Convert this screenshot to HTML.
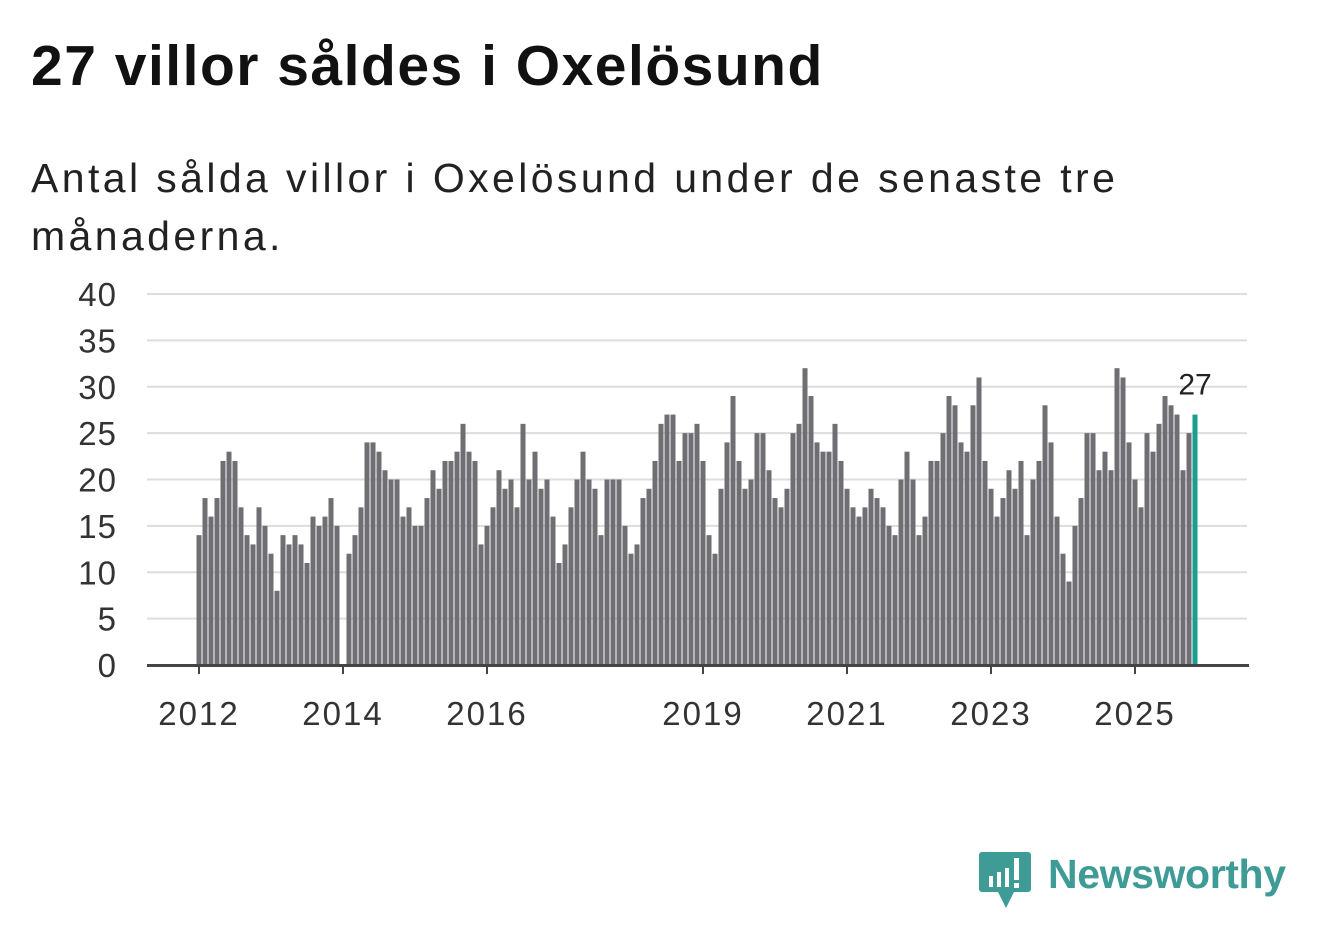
<!DOCTYPE html>
<html><head><meta charset="utf-8"><style>
body{margin:0;background:#fff;width:1322px;height:939px;overflow:hidden;font-family:"Liberation Sans",sans-serif;}
h1{position:absolute;left:31px;top:33px;margin:0;font-size:57px;letter-spacing:1.5px;font-weight:bold;color:#111;}
.sub{position:absolute;left:31px;top:149px;margin:0;font-size:41px;letter-spacing:3.4px;line-height:58px;color:#222;width:1120px;}
svg{position:absolute;left:0;top:0;}
</style></head><body>
<h1>27 villor såldes i Oxelösund</h1>
<p class="sub">Antal sålda villor i Oxelösund under de senaste tre månaderna.</p>
<svg width="1322" height="939">
<g id="grid"></g><g id="bars"></g><g id="axis"></g>
<g>
<path d="M982 852 h46 a3 3 0 0 1 3 3 v34 a3 3 0 0 1 -3 3 h-14 l-8 16 l-8 -16 h-16 a3 3 0 0 1 -3 -3 v-34 a3 3 0 0 1 3 -3z" fill="#3f9b96"/>
<rect x="989" y="876" width="4" height="11" fill="#fff"/><rect x="997" y="872" width="4" height="15" fill="#fff"/><rect x="1005" y="868" width="4" height="19" fill="#fff"/><rect x="1014" y="858" width="5" height="22" fill="#fff"/><rect x="1014" y="883" width="5" height="5" fill="#fff"/>
<text x="1048" y="888" font-size="41" font-weight="bold" fill="#3f9b96" textLength="238" font-family="Liberation Sans, sans-serif">Newsworthy</text>
</g>
</svg>
<script>
const years=[2012,2013,2014,2015,2016,2017,2018,2019,2020,2021,2022,2023,2024,2025];
const values=[
14,18,16,18,22,23,22,17,14,13,17,15,
12,8,14,13,14,13,11,16,15,16,18,15,
null,12,14,17,24,24,23,21,20,20,16,17,
15,15,18,21,19,22,22,23,26,23,22,13,
15,17,21,19,20,17,26,20,23,19,20,16,
11,13,17,20,23,20,19,14,20,20,20,15,
12,13,18,19,22,26,27,27,22,25,25,26,
22,14,12,19,24,29,22,19,20,25,25,21,
18,17,19,25,26,32,29,24,23,23,26,22,
19,17,16,17,19,18,17,15,14,20,23,20,
14,16,22,22,25,29,28,24,23,28,31,22,
19,16,18,21,19,22,14,20,22,28,24,16,
12,9,15,18,25,25,21,23,21,32,31,24,
20,17,25,23,26,29,28,27,21,25,27];
const yTicks=[0,5,10,15,20,25,30,35,40];
const xTickYears=[2012,2014,2016,2019,2021,2023,2025];
const NS="http://www.w3.org/2000/svg";
const x0=199,step=6,y0=665,yk=(665-294)/40;
const X=i=>x0+i*step, Y=v=>y0-v*yk;
function mk(t,a,p){const e=document.createElementNS(NS,t);for(const k in a)e.setAttribute(k,a[k]);p.appendChild(e);return e;}
const grid=document.getElementById('grid'),bars=document.getElementById('bars'),axis=document.getElementById('axis');
yTicks.forEach(v=>{
 if(v>0){const l=mk('line',{x1:147,x2:1247,y1:Y(v),y2:Y(v),stroke:'#ddd','stroke-width':2},grid);
 
 }
 const t=mk('text',{x:117,y:Y(v)+12,'text-anchor':'end','font-size':33,'letter-spacing':1,fill:'#333'},axis);t.textContent=v;
 
 
});
const last=values.length-1;
values.forEach((v,i)=>{if(v==null)return;
 const r=mk('rect',{x:X(i)-2.5,y:Y(v),width:5,height:v*yk,fill:i==last?'#1a9e8f':'#6e6e73'},bars);
 
 
});
const lbl=mk('text',{x:X(last),y:Y(values[last])-20,'text-anchor':'middle','font-size':30,fill:'#222'},axis);
lbl.textContent=values[last];


const b=mk('line',{x1:147,x2:1249,y1:y0+0.5,y2:y0+0.5,stroke:'#444','stroke-width':3},axis);


xTickYears.forEach(yr=>{const i=(yr-years[0])*12;
 const tk=mk('line',{x1:X(i),x2:X(i),y1:y0,y2:y0+9,stroke:'#444','stroke-width':2},axis);
 
 
 const t=mk('text',{x:X(i),y:725,'text-anchor':'middle','font-size':33,'letter-spacing':2,fill:'#333'},axis);t.textContent=yr;
 
 
});
</script>
</body></html>
